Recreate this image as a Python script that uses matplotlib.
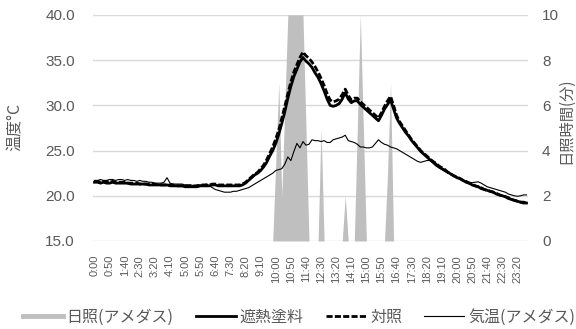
import numpy as np
import matplotlib
matplotlib.use('Agg')
import matplotlib.pyplot as plt
from matplotlib.lines import Line2D

plt.rcParams['font.family'] = ['Noto Sans CJK JP', 'DejaVu Sans']

# ── データ (10分間隔, 0:00〜23:50) ──────────────────────────────
TICK_LABELS = ['0:00', '0:50', '1:40', '2:30', '3:20', '4:10', '5:00', '5:50',
               '6:40', '7:30', '8:20', '9:10', '10:00', '10:50', '11:40', '12:30',
               '13:20', '14:10', '15:00', '15:50', '16:40', '17:30', '18:20', '19:10',
               '20:00', '20:50', '21:40', '22:30', '23:20']

paint = [21.5, 21.5, 21.4, 21.5, 21.4, 21.4, 21.5, 21.4, 21.4, 21.4,
         21.4, 21.4, 21.3, 21.3, 21.3, 21.3, 21.3, 21.3, 21.2, 21.2,
         21.2, 21.2, 21.2, 21.2, 21.2, 21.1, 21.1, 21.1, 21.1, 21.1,
         21.0, 21.0, 21.0, 21.0, 21.0, 21.1, 21.1, 21.1, 21.1, 21.2,
         21.2, 21.1, 21.1, 21.1, 21.1, 21.1, 21.1, 21.1, 21.1, 21.2,
         21.4, 21.7, 22.0, 22.3, 22.5, 22.8, 23.2, 23.7, 24.4, 25.0,
         25.8, 26.8, 28.0, 29.3, 30.8, 32.1, 33.2, 34.0, 34.8, 35.3,
         34.9, 34.6, 34.2, 33.6, 33.1, 32.4, 31.6, 30.7, 30.0, 29.9,
         30.0, 30.2, 30.7, 31.4, 30.7, 30.3, 30.5, 30.5, 30.1, 29.8,
         29.5, 29.2, 28.9, 28.6, 28.3, 28.9, 29.6, 30.1, 30.6, 29.6,
         28.6, 28.0, 27.5, 27.0, 26.6, 26.1, 25.7, 25.3, 24.9, 24.6,
         24.3, 24.0, 23.8, 23.5, 23.2, 23.0, 22.8, 22.6, 22.4, 22.2,
         22.0, 21.9, 21.7, 21.5, 21.4, 21.2, 21.1, 21.0, 20.8, 20.7,
         20.6, 20.5, 20.4, 20.2, 20.1, 20.0, 19.9, 19.7, 19.6, 19.5,
         19.4, 19.3, 19.2, 19.2]

control = [21.6, 21.6, 21.5, 21.6, 21.6, 21.5, 21.6, 21.5, 21.5, 21.5,
           21.5, 21.4, 21.4, 21.4, 21.4, 21.3, 21.3, 21.3, 21.3, 21.3,
           21.3, 21.2, 21.2, 21.2, 21.2, 21.2, 21.2, 21.1, 21.1, 21.1,
           21.1, 21.1, 21.1, 21.1, 21.1, 21.2, 21.2, 21.2, 21.2, 21.3,
           21.3, 21.2, 21.2, 21.2, 21.2, 21.2, 21.2, 21.2, 21.2, 21.3,
           21.5, 21.8, 22.1, 22.4, 22.6, 23.0, 23.4, 24.0, 24.7, 25.4,
           26.3, 27.3, 28.6, 29.9, 31.3, 32.6, 33.7, 34.5, 35.3, 35.9,
           35.5, 35.2, 34.8, 34.3, 33.7, 33.0, 32.2, 31.3, 30.6, 30.4,
           30.5, 30.7, 31.2, 31.8, 31.1, 30.6, 30.8, 30.8, 30.4, 30.1,
           29.8, 29.5, 29.2, 28.9, 28.6, 29.2, 29.9, 30.5, 31.0, 30.0,
           28.9, 28.2, 27.7, 27.2, 26.7, 26.2, 25.8, 25.4, 25.0, 24.7,
           24.4, 24.1, 23.8, 23.6, 23.3, 23.1, 22.9, 22.6, 22.4, 22.2,
           22.1, 21.9, 21.7, 21.6, 21.4, 21.3, 21.1, 21.0, 20.9, 20.7,
           20.6, 20.5, 20.4, 20.3, 20.1, 20.0, 19.9, 19.8, 19.6, 19.5,
           19.4, 19.3, 19.3, 19.2]

air = [21.7, 21.7, 21.8, 21.7, 21.7, 21.8, 21.8, 21.7, 21.8, 21.8,
       21.7, 21.8, 21.7, 21.7, 21.6, 21.7, 21.6, 21.6, 21.5, 21.5,
       21.4, 21.4, 21.4, 21.5, 22.0, 21.4, 21.3, 21.3, 21.3, 21.3,
       21.2, 21.2, 21.2, 21.1, 21.2, 21.2, 21.2, 21.3, 21.1, 20.9,
       20.7, 20.6, 20.5, 20.4, 20.4, 20.4, 20.5, 20.5, 20.6, 20.7,
       20.8, 20.9, 21.1, 21.3, 21.5, 21.7, 21.9, 22.1, 22.3, 22.5,
       22.8, 22.9, 23.0, 23.5, 24.3, 23.9, 24.9, 25.8, 25.3, 26.0,
       25.6, 25.7, 26.2, 26.1, 26.1, 26.0, 26.1, 25.9, 25.9, 26.2,
       26.3, 26.4, 26.5, 26.7, 26.1, 26.0, 25.9, 25.7, 25.4, 25.4,
       25.3, 25.3, 25.4, 25.8, 26.2, 25.9, 25.7, 25.6, 25.4, 25.3,
       25.2, 25.0, 24.8, 24.6, 24.4, 24.2, 24.0, 23.8, 23.7, 23.8,
       23.9, 23.9, 23.6, 23.3, 23.1, 22.9, 22.7, 22.5, 22.4, 22.2,
       22.1, 21.9, 21.8, 21.6, 21.5, 21.45, 21.5, 21.55, 21.4, 21.2,
       21.0, 20.9, 20.8, 20.7, 20.6, 20.5, 20.4, 20.2, 20.1, 20.0,
       19.95, 20.0, 20.1, 20.1]

sunshine = [0] * 60 + [3.5, 7, 2, 6, 10, 10, 10, 10, 10, 10,
                       5, 0, 0, 0, 0, 5, 0, 0, 0, 0,
                       0, 0, 0, 2, 0, 0, 0, 5, 10, 5,
                       0, 0, 0, 0, 0, 0, 0, 3, 7] + [0] * 45

x = np.arange(len(paint))
GRAY_TXT = '#595959'
DASH = (0, (2.2, 0.8))

fig = plt.figure(figsize=(5.76, 3.29), dpi=100)
ax = fig.add_axes([93/576, 1 - 241/329, 435/576, 226/329])
axs = ax.twinx()
ax.set_zorder(2); axs.set_zorder(1)
ax.patch.set_visible(False)

# 日照 (右軸)
axs.fill_between(x, 0, sunshine, color='#bfbfbf', lw=0)
axs.set_ylim(0, 10)
axs.set_yticks([0, 2, 4, 6, 8, 10])
axs.grid(axis='y', color='#d9d9d9', lw=1)
axs.set_axisbelow(True)

# 温度 (左軸)
ax.plot(x, air, color='black', lw=0.8)
ax.plot(x, paint, color='black', lw=2.0)
ax.plot(x, control, color='black', lw=2.0, ls=DASH)
ax.set_ylim(15, 40)
ax.set_yticks([15, 20, 25, 30, 35, 40])
ax.set_yticklabels([f'{v:.1f}' for v in [15, 20, 25, 30, 35, 40]])
ax.set_xlim(-0.5, len(x) - 0.5)
ax.set_xticks(np.arange(0, len(x), 5))
ax.set_xticklabels(TICK_LABELS, rotation=90, fontsize=8, color=GRAY_TXT,
                   family='Liberation Sans')

for a in (ax, axs):
    for s in a.spines.values():
        s.set_visible(False)
ax.tick_params(axis='x', length=0, pad=10)
ax.tick_params(axis='y', length=0, pad=13, labelsize=11, labelcolor=GRAY_TXT)
axs.tick_params(axis='y', length=0, pad=10, labelsize=11, labelcolor=GRAY_TXT)
for lab in ax.get_yticklabels() + axs.get_yticklabels():
    lab.set_family('Liberation Sans')

fig.text(15/576, 1 - 127/329, '温度°C', rotation=90, ha='center', va='center',
         fontsize=11.5, color=GRAY_TXT)
fig.text(566/576, 1 - 121/329, '日照時間(分)', rotation=90, ha='center', va='center',
         fontsize=11, color=GRAY_TXT)

handles = [Line2D([], [], color='#bfbfbf', lw=3.5),
           Line2D([], [], color='black', lw=2.0),
           Line2D([], [], color='black', lw=2.0, ls=DASH),
           Line2D([], [], color='black', lw=0.8)]
labels = ['日照(アメダス)', '遮熱塗料', '対照', '気温(アメダス)']
fig.legend(handles, labels, loc='center', bbox_to_anchor=(299/576, 1 - 317/329),
           ncol=4, frameon=False, fontsize=11.5, handlelength=2.5,
           handletextpad=0.25, columnspacing=1.4, labelcolor=GRAY_TXT,
           borderpad=0, borderaxespad=0)

fig.savefig('out.png', dpi=100)
